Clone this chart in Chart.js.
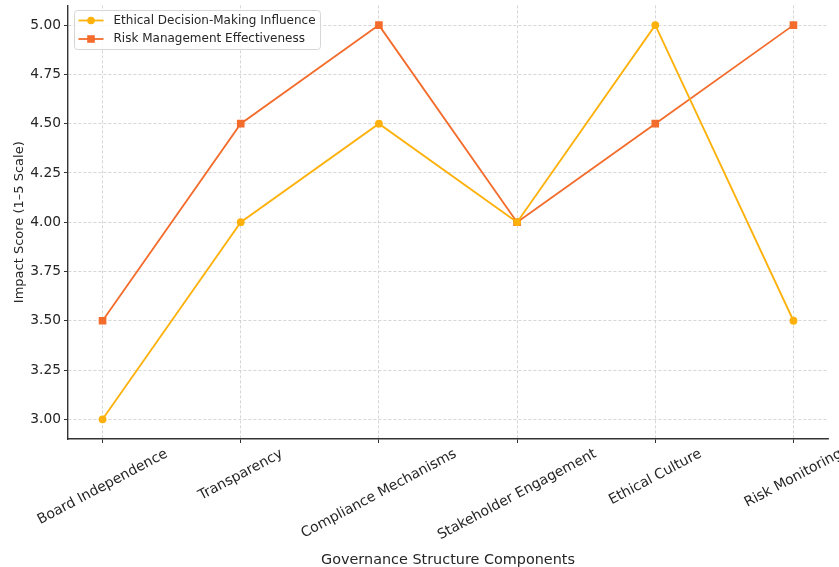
<!DOCTYPE html>
<html>
<head>
<meta charset="utf-8">
<script src="https://cdn.jsdelivr.net/npm/chart.js@4.4.1/dist/chart.umd.min.js"></script>
<style>
  html, body { margin: 0; padding: 0; background: #fff; }
  #wrap { width: 839px; height: 567px; }
</style>
</head>
<body>
<div id="wrap"><canvas id="c" width="839" height="567"></canvas></div>
<script>
const categories = [
  "Board Independence",
  "Transparency",
  "Compliance Mechanisms",
  "Stakeholder Engagement",
  "Ethical Culture",
  "Risk Monitoring"
];
const ethicalInfluence = [3.0, 4.0, 4.5, 4.0, 5.0, 3.5];
const riskEffectiveness = [3.5, 4.5, 5.0, 4.0, 4.5, 5.0];
const yTicks = [3.00, 3.25, 3.50, 3.75, 4.00, 4.25, 4.50, 4.75, 5.00];

const FONT = "'DejaVu Sans', sans-serif";
const TEXT = "#262626";
const GRID = "#cbcbcb";
const C_ETH = "#FDB10A";
const C_RISK = "#F36C2B";

const toPoints = arr => arr.map((v, i) => ({ x: i, y: v }));

// Rotated category labels centred on each tick, plus an inset legend box
const overlay = {
  id: "overlay",
  afterDraw(chart) {
    const ctx = chart.ctx;
    const xs = chart.scales.x;
    const deg = 28;
    const a = deg * Math.PI / 180;
    ctx.save();
    ctx.fillStyle = TEXT;
    ctx.font = "14px " + FONT;
    ctx.textAlign = "center";
    ctx.textBaseline = "middle";
    categories.forEach((lab, i) => {
      const px = xs.getPixelForValue(i);
      const w = ctx.measureText(lab).width;
      const cy = xs.top + 8 + (w / 2) * Math.sin(a) + 6;
      ctx.save();
      ctx.translate(px, cy);
      ctx.rotate(-a);
      ctx.fillText(lab, 0, 0);
      ctx.restore();
    });
    ctx.restore();

    // legend
    const ds = chart.data.datasets;
    const bx = 74.5, by = 10.5, bw = 246, bh = 39;
    ctx.save();
    ctx.fillStyle = "rgba(255,255,255,0.85)";
    ctx.strokeStyle = "#d6d6d6";
    ctx.lineWidth = 1;
    ctx.beginPath();
    ctx.roundRect(bx, by, bw, bh, 3);
    ctx.fill();
    ctx.stroke();
    ctx.font = "12px " + FONT;
    ctx.textAlign = "left";
    ctx.textBaseline = "middle";
    ds.forEach((d, i) => {
      const y = by + 10 + i * 18.5;
      ctx.strokeStyle = d.borderColor;
      ctx.lineWidth = 1.8;
      ctx.beginPath();
      ctx.moveTo(bx + 4, y);
      ctx.lineTo(bx + 29, y);
      ctx.stroke();
      ctx.fillStyle = d.backgroundColor;
      if (d.pointStyle === "rect") {
        ctx.fillRect(bx + 16.5 - 3.8, y - 3.8, 7.6, 7.6);
      } else {
        ctx.beginPath();
        ctx.arc(bx + 16.5, y, 3.8, 0, Math.PI * 2);
        ctx.fill();
      }
      ctx.fillStyle = TEXT;
      ctx.fillText(d.label, bx + 39, y);
    });
    ctx.restore();
  }
};

const gridOpts = {
  color: GRID,
  lineWidth: 0.8,
  drawTicks: true,
  tickLength: 4,
  tickColor: "#333",
  tickBorderDash: [],
  tickWidth: 1
};

new Chart(document.getElementById("c"), {
  type: "line",
  data: {
    datasets: [
      {
        label: "Ethical Decision-Making Influence",
        data: toPoints(ethicalInfluence),
        borderColor: C_ETH,
        backgroundColor: C_ETH,
        borderWidth: 1.8,
        pointStyle: "circle",
        pointRadius: 3.9,
        pointBorderWidth: 0,
        pointHoverRadius: 3.9,
        tension: 0
      },
      {
        label: "Risk Management Effectiveness",
        data: toPoints(riskEffectiveness),
        borderColor: C_RISK,
        backgroundColor: C_RISK,
        borderWidth: 1.8,
        pointStyle: "rect",
        pointRadius: 5.4,
        pointBorderWidth: 0,
        pointHoverRadius: 5.4,
        tension: 0
      }
    ]
  },
  options: {
    responsive: false,
    animation: false,
    events: [],
    layout: { padding: { left: 12, right: 11, top: 4, bottom: 0 } },
    plugins: {
      legend: { display: false },
      tooltip: { enabled: false }
    },
    scales: {
      x: {
        type: "linear",
        min: -0.25,
        max: 5.25,
        afterBuildTicks(scale) {
          scale.ticks = categories.map((_, i) => ({ value: i }));
        },
        afterFit(scale) {
          scale.height = 128;
          scale.paddingLeft = 0;
          scale.paddingRight = 0;
        },
        ticks: { display: false },
        grid: gridOpts,
        border: { display: true, color: "#333", width: 1.4, dash: [3, 2] },
        title: {
          display: true,
          text: "Governance Structure Components",
          color: TEXT,
          font: { family: FONT, size: 14.4 },
          padding: { top: 0, bottom: -2 }
        }
      },
      y: {
        type: "linear",
        min: 2.9,
        max: 5.1,
        afterBuildTicks(scale) {
          scale.ticks = yTicks.map(v => ({ value: v }));
        },
        afterFit(scale) {
          scale.width = 56;
          scale.paddingTop = 0;
          scale.paddingBottom = 0;
        },
        ticks: {
          color: TEXT,
          font: { family: FONT, size: 13.8 },
          padding: 3,
          callback: v => Number(v).toFixed(2)
        },
        grid: gridOpts,
        border: { display: true, color: "#333", width: 1.4, dash: [3, 2] },
        title: {
          display: true,
          text: "Impact Score (1–5 Scale)",
          color: TEXT,
          font: { family: FONT, size: 13 },
          padding: { top: 0, bottom: 0 }
        }
      }
    }
  },
  plugins: [overlay]
});
</script>
</body>
</html>
